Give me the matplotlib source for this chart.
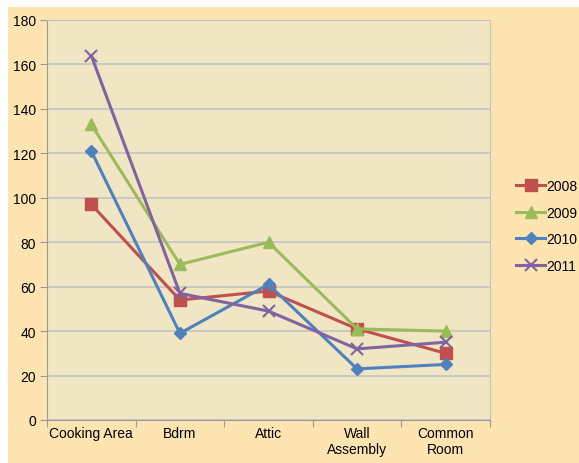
import matplotlib.pyplot as plt
from matplotlib.patches import Rectangle

plt.rcParams['font.family'] = ['Liberation Sans', 'DejaVu Sans']

# data
categories = ['Cooking Area', 'Bdrm', 'Attic', 'Wall\nAssembly', 'Common\nRoom']
years = ['2008', '2009', '2010', '2011']
v2008 = [97, 54, 58, 41, 30]
v2009 = [133, 70, 80, 41, 40]
v2010 = [121, 39, 61, 23, 25]
v2011 = [164, 57, 49, 32, 35]

series = [v2008, v2009, v2010, v2011]
colors = ['#C0504D', '#9BBB59', '#4F81BD', '#8064A2']
markers = ['s', '^', 'D', 'x']
msizes = [8, 8, 6, 8]

fig = plt.figure(figsize=(5.79, 4.64), dpi=100, facecolor='white')
# orange chart background
bg = Rectangle((8 / 579, 0), 1, (464 - 8) / 464, transform=fig.transFigure,
               facecolor='#FDE4B0', edgecolor='none', zorder=-10)
fig.add_artist(bg)

ax = fig.add_axes([47 / 579, 1 - 421 / 464, 443 / 579, 400 / 464])
ax.set_zorder(1)
ax.set_facecolor('#F1E6C4')

x = list(range(len(categories)))
for vals, yr, c, m, ms in zip(series, years, colors, markers, msizes):
    ax.plot(x, vals, color=c, lw=2.2, marker=m, ms=ms, mec=c, mfc=c,
            mew=1.5 if m == 'x' else 1, label=yr, zorder=3)

ax.set_xlim(-0.5, 4.5)
ax.set_ylim(0, 180)
ax.set_yticks(range(0, 181, 20))
ax.yaxis.grid(True, color='#C4C4C4', lw=1.2)
ax.set_axisbelow(True)

ax.set_xticks([i - 0.5 for i in range(6)])
ax.set_xticklabels([])
ax.set_xticks(x, minor=True)
ax.set_xticklabels(categories, minor=True)
ax.tick_params(axis='x', which='major', length=5, color='#999999', direction='out')
ax.tick_params(axis='x', which='minor', length=0, pad=4, labelsize=10)
ax.tick_params(axis='y', length=5, color='#999999', labelsize=10, pad=3)

for s in ['top', 'right']:
    ax.spines[s].set_color('#C4C4C4')
for s in ['left', 'bottom']:
    ax.spines[s].set_color('#999999')

leg = ax.legend(loc='center left', bbox_to_anchor=(516 / 579, 1 - 227 / 464),
                bbox_transform=fig.transFigure, frameon=False, fontsize=10,
                handlelength=2.1, handletextpad=0.1, labelspacing=0.9,
                borderaxespad=0, borderpad=0)

fig.savefig('out.png', dpi=100, facecolor=fig.get_facecolor())
